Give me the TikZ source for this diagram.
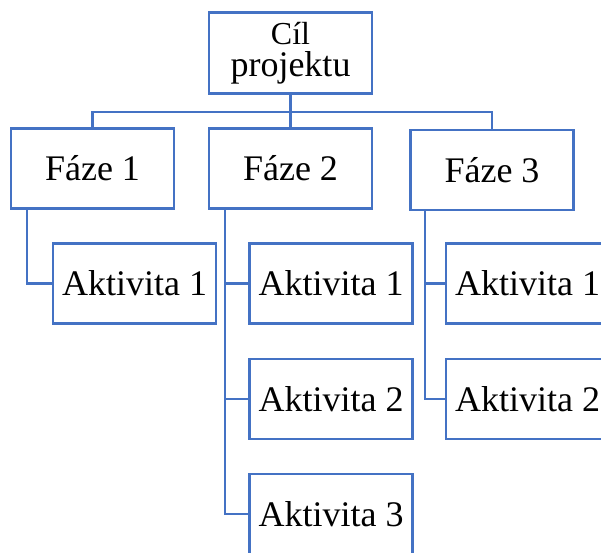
\documentclass[tikz,border=0pt]{standalone}
\usepackage{fontspec}
\setmainfont{Liberation Serif}
\definecolor{wbsblue}{HTML}{4472C4}
\begin{document}
\begin{tikzpicture}[x=1pt,y=-1pt,
  box/.style={draw=wbsblue,line width=2.6pt,fill=white,rectangle,inner sep=0pt,
    minimum width=163pt,minimum height=80pt,font=\fontsize{36}{40}\selectfont},
  link/.style={draw=wbsblue,line width=2.4pt}]
\useasboundingbox (0,0) rectangle (601,552);
\clip (0,0) rectangle (601,552);
% connectors first
\coordinate (j) at (290.5,112);
\coordinate (f1c) at (92.5,168.5);
\coordinate (f2c) at (290.5,168.5);
\coordinate (f3c) at (492,170);
\draw[link] (290.5,53) -- (j);
\draw[link] (92.5,168.5) |- (j) -| (492,170);
\draw[link] (j) -- (290.5,168.5);
% nodes
\node[box,minimum height=81pt,align=center,font=\fontsize{36}{32}\selectfont] (top) at (290.5,53) {{\fontsize{32}{32}\selectfont Cíl}\\projektu};
\node[box] (f1) at (f1c) {Fáze 1};
\node[box] (f2) at (f2c) {Fáze 2};
\node[box] (f3) at (f3c) {Fáze 3};
\node[box] (a11) at (134.5,283.5) {Aktivita 1};
\node[box] (a21) at (331,283.5) {Aktivita 1};
\node[box] (a22) at (331,399) {Aktivita 2};
\node[box] (a23) at (331,514) {Aktivita 3};
\node[box] (a31) at (527.5,283.5) {Aktivita 1};
\node[box] (a32) at (527.5,399) {Aktivita 2};
% phase to activity connectors
\draw[link] ([xshift=17pt]f1.south west) |- (a11.west);
\draw[link] ([xshift=17pt]f2.south west) |- (a21.west);
\draw[link] ([xshift=17pt]f2.south west) |- (a22.west);
\draw[link] ([xshift=17pt]f2.south west) |- (a23.west);
\draw[link] ([xshift=16pt]f3.south west) |- (a31.west);
\draw[link] ([xshift=16pt]f3.south west) |- (a32.west);
\end{tikzpicture}
\end{document}
